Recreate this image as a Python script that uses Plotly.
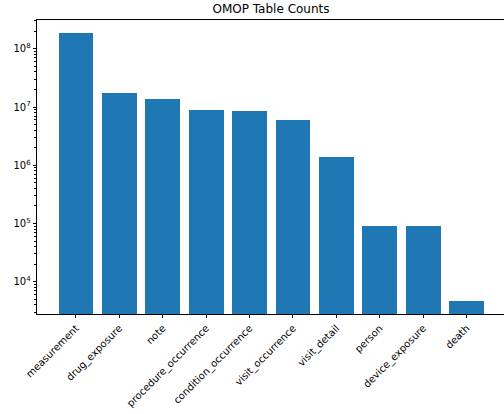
import plotly.graph_objects as go

# OMOP CDM tables and their row counts
tables = ["measurement", "drug_exposure", "note", "procedure_occurrence",
          "condition_occurrence", "visit_occurrence", "visit_detail",
          "person", "device_exposure", "death"]
row_counts = [1.83e8, 1.72e7, 1.36e7, 8.78e6, 8.4e6, 5.9e6, 1.37e6,
              9.0e4, 9.0e4, 4.67e3]

decade_vals = [1e4, 1e5, 1e6, 1e7, 1e8]
decade_text = ["10<sup>4</sup>", "10<sup>5</sup>", "10<sup>6</sup>",
               "10<sup>7</sup>", "10<sup>8</sup>"]

fig = go.Figure(go.Bar(
    x=list(range(len(tables))),
    y=row_counts,
    width=0.8,
    marker=dict(color="#1f77b4", line=dict(width=0)),
))

font = dict(family="DejaVu Sans", size=10, color="black")

fig.update_layout(
    width=504, height=414,
    margin=dict(l=37, r=0, t=20, b=100),
    paper_bgcolor="white", plot_bgcolor="white",
    font=font,
    showlegend=False,
    bargap=0,
    title=dict(text="OMOP Table Counts", x=271 / 504, xanchor="center",
               y=1 - 9 / 414, yanchor="middle",
               font=dict(family="DejaVu Sans", size=12, color="black")),
)

fig.update_xaxes(
    range=[-0.898, 9.862],
    tickmode="array",
    tickvals=list(range(len(tables))),
    ticktext=tables,
    tickangle=-45,
    ticks="outside", ticklen=3.5, tickcolor="black", tickwidth=0.8,
    showline=True, linecolor="black", linewidth=0.8, mirror=True,
    showgrid=False, zeroline=False,
    tickfont=font,
)

# the right-hand frame edge falls just past the page edge, so only the left is drawn
fig.update_yaxes(
    type="log",
    range=[3.446, 8.494],
    tickmode="array",
    tickvals=decade_vals,
    ticktext=decade_text,
    ticks="outside", ticklen=3.5, tickcolor="black", tickwidth=0.8,
    minor=dict(ticks="outside", ticklen=2, tickcolor="black", tickwidth=0.6,
               dtick="D1", showgrid=False),
    showline=True, linecolor="black", linewidth=0.8, mirror=False,
    showgrid=False, zeroline=False,
    tickfont=font,
)

fig.write_html("out.html")
